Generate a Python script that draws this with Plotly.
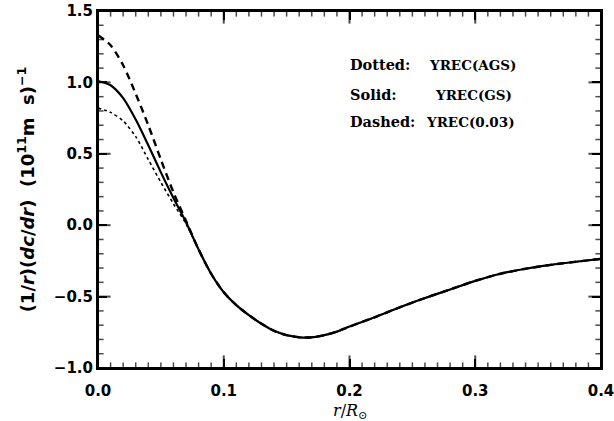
import plotly.graph_objects as go

r = [0.0, 0.01, 0.02, 0.03, 0.04, 0.05, 0.06, 0.07, 0.08, 0.09, 0.10, 0.11,
     0.12, 0.13, 0.14, 0.15, 0.16, 0.17, 0.18, 0.19, 0.20, 0.22, 0.24, 0.26, 0.28,
     0.30, 0.32, 0.34, 0.36, 0.38, 0.40]

solid_gs = [1.01, 0.98, 0.89, 0.74, 0.56, 0.37, 0.19, 0.02, -0.17, -0.34, -0.47, -0.56,
            -0.63, -0.69, -0.74, -0.77, -0.785, -0.785, -0.77, -0.745, -0.71, -0.645, -0.575,
            -0.51, -0.45, -0.39, -0.34, -0.305, -0.278, -0.256, -0.236]

dashed_003 = [1.33, 1.26, 1.12, 0.92, 0.70, 0.46, 0.23, 0.03, -0.17, -0.34, -0.47, -0.56,
              -0.63, -0.69, -0.74, -0.77, -0.785, -0.785, -0.77, -0.745, -0.71, -0.645, -0.575,
              -0.51, -0.45, -0.39, -0.34, -0.305, -0.278, -0.256, -0.236]

dotted_ags = [0.82, 0.79, 0.73, 0.62, 0.46, 0.30, 0.15, 0.01, -0.17, -0.34, -0.47, -0.56,
              -0.63, -0.69, -0.74, -0.77, -0.785, -0.785, -0.77, -0.745, -0.71, -0.645, -0.575,
              -0.51, -0.45, -0.39, -0.34, -0.305, -0.278, -0.256, -0.236]

x_ticks = [0.0, 0.1, 0.2, 0.3, 0.4]
x_ticklabels = ["0.0", "0.1", "0.2", "0.3", "0.4"]
y_ticks = [-1.0, -0.5, 0.0, 0.5, 1.0, 1.5]
y_ticklabels = ["−1.0", "−0.5", "0.0", "0.5", "1.0", "1.5"]
x_minor_ticks = [round(i * 0.01, 2) for i in range(41) if i % 10]
y_minor_ticks = [round(-1.0 + i * 0.1, 1) for i in range(26) if i % 5]

legend_keys = ["Dotted:", "Solid:", "Dashed:"]
legend_vals = ["YREC(AGS)", "YREC(GS)", "YREC(0.03)"]

X_RANGE = [0, 0.4]
Y_RANGE = [-1.0, 1.5]

fig = go.Figure()
fig.add_trace(go.Scatter(x=r, y=dotted_ags, mode="lines", hoverinfo="skip",
                         line=dict(color="black", width=1.6, dash="dot", shape="spline",
                                   smoothing=0.8)))
fig.add_trace(go.Scatter(x=r, y=dashed_003, mode="lines", hoverinfo="skip",
                         line=dict(color="black", width=2.4, dash="7px,5px", shape="spline",
                                   smoothing=0.8)))
fig.add_trace(go.Scatter(x=r, y=solid_gs, mode="lines", hoverinfo="skip",
                         line=dict(color="black", width=2.2, shape="spline", smoothing=0.8)))

# inside tick marks on all four sides: line markers centred on the axis,
# the outer half clipped away by the plot area (cliponaxis)
xt_all = sorted(x_ticks + x_minor_ticks)
xt_size = [18 if v in x_ticks else 8 for v in xt_all]
xt_width = [2 if v in x_ticks else 1.5 for v in xt_all]
yt_all = sorted(y_ticks + y_minor_ticks)
yt_size = [18 if v in y_ticks else 8 for v in yt_all]
yt_width = [2 if v in y_ticks else 1.5 for v in yt_all]

for yy in Y_RANGE:
    fig.add_trace(go.Scatter(x=xt_all, y=[yy] * len(xt_all), mode="markers",
                             hoverinfo="skip", cliponaxis=True,
                             marker=dict(symbol="line-ns", size=xt_size, color="black",
                                         line=dict(color="black", width=xt_width))))
for xx in X_RANGE:
    fig.add_trace(go.Scatter(x=[xx] * len(yt_all), y=yt_all, mode="markers",
                             hoverinfo="skip", cliponaxis=True,
                             marker=dict(symbol="line-ew", size=yt_size, color="black",
                                         line=dict(color="black", width=yt_width))))

tickfont = dict(family="DejaVu Sans", size=15, color="black", weight="bold")
base = dict(showgrid=False, zeroline=False, ticks="inside", tickcolor="black",
            tickwidth=2, ticklen=9, automargin=False, tickmode="array",
            showline=True, linecolor="black", linewidth=2, mirror="allticks",
            tickfont=tickfont)

fig.update_layout(
    xaxis=dict(range=X_RANGE, tickvals=x_ticks, ticktext=x_ticklabels,
               ticklabelstandoff=8, ticklabeloverflow="allow", **base),
    yaxis=dict(range=Y_RANGE, tickvals=y_ticks, ticktext=y_ticklabels,
               ticklabeloverflow="allow",
               title=dict(text="(1/<i>r</i>)(<i>dc</i>/<i>dr</i>)  (10<sup>11</sup>m  s)<sup>−1</sup>",
                          font=dict(family="DejaVu Sans", size=18, color="black",
                                    weight="bold"),
                          standoff=15),
               **base),
)

# plot frame
fig.add_shape(type="rect", xref="paper", yref="paper", x0=0, y0=0, x1=1, y1=1,
              line=dict(color="black", width=2), fillcolor="rgba(0,0,0,0)", layer="above")

fig.add_annotation(x=0.2, y=0, xref="x", yref="paper", yanchor="top", yshift=-31,
                   text="<i>r</i>/<i>R</i><sub>⊙</sub>", showarrow=False,
                   font=dict(family="DejaVu Serif", size=16, color="black"))

for i, (k, v) in enumerate(zip(legend_keys, legend_vals)):
    yy = [1.125, 0.915, 0.725][i]
    fig.add_annotation(x=0.2, y=yy, xref="x", yref="y", text=k, showarrow=False,
                       xanchor="left", yanchor="middle", xshift=-2,
                       font=dict(family="DejaVu Serif", size=14.5, color="black", weight="bold"))
    fig.add_annotation(x=[0.262, 0.266, 0.259][i], y=yy, xref="x", yref="y", text=v,
                       showarrow=False, xanchor="left", yanchor="middle",
                       font=dict(family="DejaVu Serif", size=13.5, color="black", weight="bold"))

fig.update_layout(width=614, height=421, showlegend=False,
                  plot_bgcolor="white", paper_bgcolor="white",
                  margin=dict(l=98, r=13, t=11, b=53))

fig.write_html("out.html", config={"displayModeBar": False},
               post_script="document.body.style.margin='0';")
